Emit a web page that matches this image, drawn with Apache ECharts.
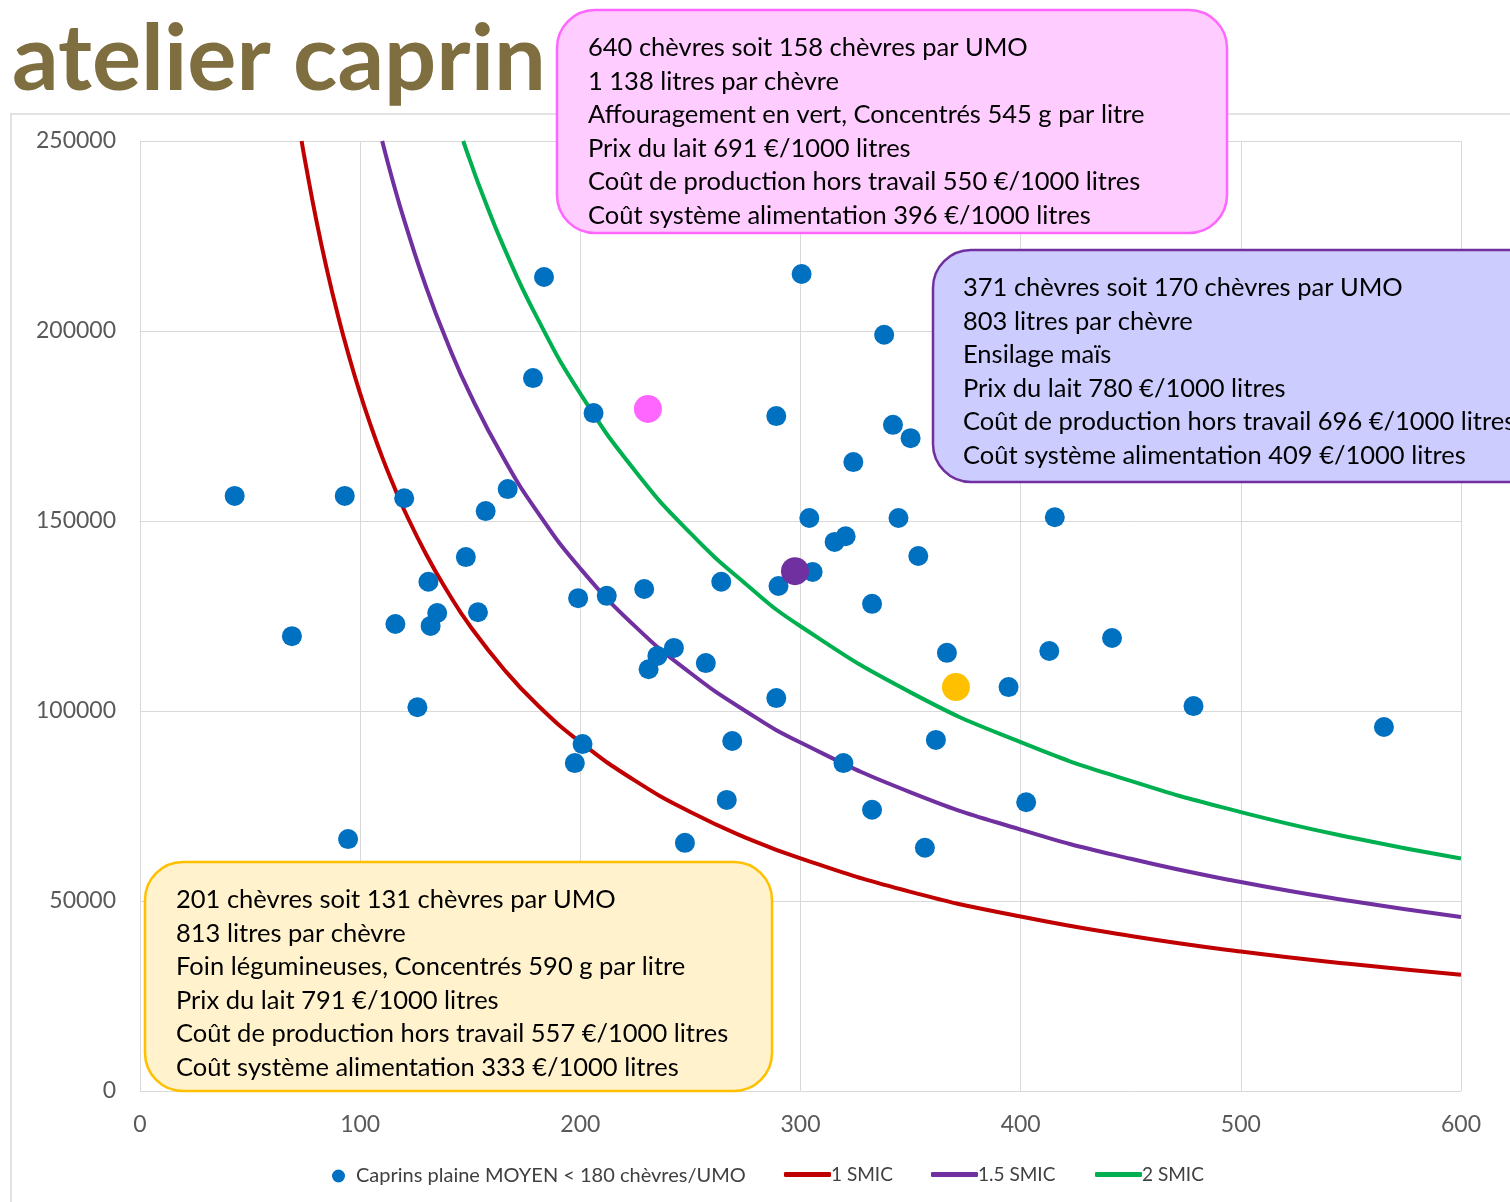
<!DOCTYPE html>
<html><head><meta charset="utf-8">
<script src="https://cdn.jsdelivr.net/npm/echarts@6/dist/echarts.min.js"></script>
<style>html,body{margin:0;padding:0;background:#fff}#c{width:1510px;height:1202px}</style>
</head><body><div id="c"></div>
<script>
// Farms: chèvres par UMO (x) vs litres de lait par UMO (y)
const farmsX = [43,69,93,94.5,120,116,126,131,132,135,148,153.5,157,167,178.5,183.5,199,201,197.5,206,212,229,231,235,242.5,247.5,257,264,266.5,269,289,290,289,300.5,304,305.5,315.5,320.5,319.5,324,332.5,332.5,338,342,344.5,350,353.5,356.5,361.5,366.5,394.5,402.5,413,415.5,441.5,478.5,565];
const farmsY = [156600,119700,156600,66300,156000,122900,101000,134000,122400,125800,140500,126000,152600,158400,187600,214200,129700,91300,86300,178400,130300,132100,111000,114500,116600,65300,112600,134000,76600,92100,177600,132900,103400,215000,150800,136600,144500,146000,86300,165500,128200,74000,199000,175300,150800,171800,140800,64000,92400,115300,106300,76000,115800,151000,119200,101300,95800];
const pinkFarm = [230.7, 179500];
const purpleFarm = [297.5, 136800];
const goldFarm = [370.6, 106300];

const smic1X = [73.4,75,80,85,90,95,100,105,110,115,120,130,140,150,165,180,200,225,250,275,300,350,400,450,500,550,600];
const smic1Y = [250000,244700,229400,215900,203900,193200,183500,174800,166800,159600,152900,141200,131100,122300,111200,101900,91800,81600,73400,66700,61200,52400,45900,40800,36700,33400,30600];
const smic15X = [110,115,120,130,140,150,165,180,200,225,250,275,300,350,400,450,500,550,600];
const smic15Y = [250000,239100,229200,211500,196400,183300,166700,152800,137500,122200,110000,100000,91700,78600,68800,61100,55000,50000,45800];
const smic2X = [146.8,150,155,165,180,200,225,250,275,300,350,400,450,500,550,600];
const smic2Y = [250000,244700,236800,222400,203900,183500,163100,146800,133500,122300,104900,91800,81600,73400,66700,61200];

const xTicks = [0,100,200,300,400,500,600];
const yTicks = [0,50000,100000,150000,200000,250000];

const seriesNames = ['Caprins plaine MOYEN < 180 chèvres/UMO','1 SMIC','1.5 SMIC','2 SMIC'];

const pinkLines = ['640 chèvres soit 158 chèvres par UMO','1 138 litres par chèvre','Affouragement en vert, Concentrés 545 g par litre','Prix du lait 691 €/1000 litres','Coût de production hors travail 550 €/1000 litres','Coût système alimentation 396 €/1000 litres'];
const purpleLines = ['371 chèvres soit 170 chèvres par UMO','803 litres par chèvre','Ensilage maïs','Prix du lait 780 €/1000 litres','Coût de production hors travail 696 €/1000 litres','Coût système alimentation 409 €/1000 litres'];
const goldLines = ['201 chèvres soit 131 chèvres par UMO','813 litres par chèvre','Foin légumineuses, Concentrés 590 g par litre','Prix du lait 791 €/1000 litres','Coût de production hors travail 557 €/1000 litres','Coût système alimentation 333 €/1000 litres'];

const FONT = 'Lato, "Noto Sans", sans-serif';
const zip = (xs, ys) => xs.map((x, i) => [x, ys[i]]);

function box(x, y, w, h, fill, stroke, lines, tx, ty) {
  return [
    {type: 'rect', z: 100, zlevel: 1, silent: true, shape: {x: x, y: y, width: w, height: h, r: 38},
     style: {fill: fill, stroke: stroke, lineWidth: 2.5}},
    {type: 'text', z: 101, zlevel: 1, silent: true, style: {x: tx, y: ty, text: lines.join('\n'), font: '25.5px ' + FONT,
      fill: '#000', lineHeight: 33.6, verticalAlign: 'top', align: 'left'}}
  ];
}

const legendText = {color: '#404040', fontSize: 20, fontFamily: FONT};
function lineLegend(name, left) {
  return {data: [{name: name, icon: 'roundRect'}], left: left, top: 1160, itemWidth: 47, itemHeight: 5,
    textStyle: Object.assign({}, legendText, {fontSize: 19, padding: [0, 0, 0, -5]})};
}

const chart = echarts.init(document.getElementById('c'));
const lineSeries = (name, xs, ys, color) => ({
  name: name, type: 'line', data: zip(xs, ys), smooth: true, symbol: 'none',
  lineStyle: {color: color, width: 4}, itemStyle: {color: color}, z: 3
});
chart.setOption({
  animation: false,
  grid: {left: 140, right: 49, top: 141, bottom: 111},
  xAxis: {type: 'value', min: 0, max: 600, interval: 100,
    axisLine: {show: false}, axisTick: {show: false},
    splitLine: {lineStyle: {color: '#D9D9D9', width: 1}},
    axisLabel: {color: '#595959', fontSize: 23, fontFamily: FONT, margin: 22}},
  yAxis: {type: 'value', min: 0, max: 250000, interval: 50000,
    axisLine: {show: false}, axisTick: {show: false},
    splitLine: {lineStyle: {color: '#D9D9D9', width: 1}},
    axisLabel: {color: '#595959', fontSize: 23, fontFamily: FONT, margin: 24, formatter: v => String(v)}},
  legend: [
    {data: [{name: seriesNames[0], icon: 'circle'}], left: 327, top: 1161, itemWidth: 13, itemHeight: 13,
     textStyle: Object.assign({padding: [0, 0, 0, 6]}, legendText)},
    lineLegend(seriesNames[1], 779),
    lineLegend(seriesNames[2], 926),
    lineLegend(seriesNames[3], 1090)
  ],
  graphic: [
    {type: 'rect', z: -10, silent: true, shape: {x: 11, y: 114, width: 1600, height: 1200},
     style: {fill: 'none', stroke: '#D9D9D9', lineWidth: 1.5}},
    {type: 'text', z: 100, silent: true, style: {x: 12, y: 60, text: 'atelier caprin', font: 'bold 92px ' + FONT,
     fill: '#7F6E40', verticalAlign: 'middle'}}
  ].concat(
    box(557, 10, 670, 223, '#FFCCFF', '#FF66FF', pinkLines, 588, 31),
    box(933, 250, 640, 232, '#CCCCFF', '#7030A0', purpleLines, 963, 271),
    box(145, 862, 627, 229, '#FFF2CC', '#FFC000', goldLines, 176, 883)
  ),
  series: [
    {name: seriesNames[0], type: 'scatter', data: zip(farmsX, farmsY), symbolSize: 20,
     itemStyle: {color: '#0070C0', opacity: 1}, z: 4},
    lineSeries(seriesNames[1], smic1X, smic1Y, '#C00000'),
    lineSeries(seriesNames[2], smic15X, smic15Y, '#7030A0'),
    lineSeries(seriesNames[3], smic2X, smic2Y, '#00B050'),
    {name: 'pink', type: 'scatter', data: [pinkFarm], symbolSize: 28, itemStyle: {color: '#FF66FF', opacity: 1}, z: 5},
    {name: 'purple', type: 'scatter', data: [purpleFarm], symbolSize: 28, itemStyle: {color: '#7030A0', opacity: 1}, z: 5},
    {name: 'gold', type: 'scatter', data: [goldFarm], symbolSize: 28, itemStyle: {color: '#FFC000', opacity: 1}, z: 5}
  ]
});
</script></body></html>
